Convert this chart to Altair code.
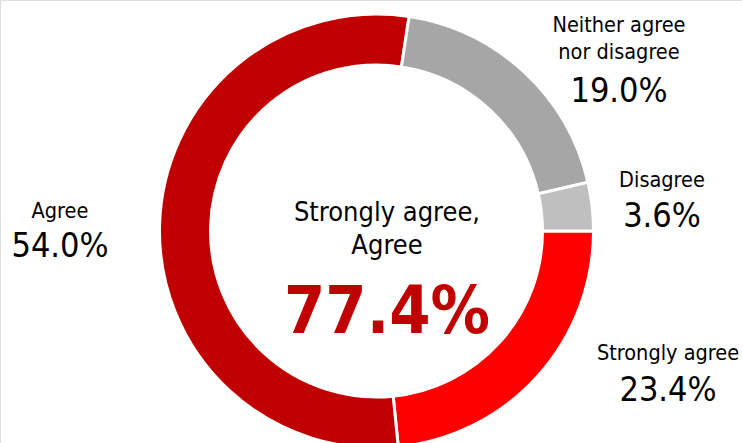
import math
import altair as alt
import pandas as pd

categories = ["Strongly agree", "Agree", "Neither agree nor disagree", "Disagree"]
label_lines = [["Strongly agree"], ["Agree"], ["Neither agree", "nor disagree"], ["Disagree"]]
values = [23.4, 54.0, 19.0, 3.6]
colors = ["#FF0000", "#C00000", "#A6A6A6", "#BFBFBF"]
center_title = ["Strongly agree,", "Agree"]
center_value = 77.4

FONT = "DejaVu Sans Condensed, Roboto, sans-serif"
W, H = 742, 443
CX, CY = 376.5, 231

df = pd.DataFrame({"category": categories, "value": values, "order": list(range(len(values)))})

arc = alt.Chart(df).mark_arc(
    innerRadius=166, outerRadius=217, stroke="white", strokeWidth=3
).encode(
    theta=alt.Theta("value:Q", stack=True,
                    scale=alt.Scale(range=[math.pi / 2, math.pi / 2 + 2 * math.pi])),
    color=alt.Color("category:N", scale=alt.Scale(domain=categories, range=colors), legend=None),
    order=alt.Order("order:Q"),
    x=alt.value(CX),
    y=alt.value(CY),
)

# label anchor positions (x center, baseline of first line, baseline of percentage)
label_pos = {
    "Strongly agree": (668, 360, 401),
    "Agree": (60, 218, 257),
    "Neither agree nor disagree": (619, 32, 102),
    "Disagree": (662, 187, 227),
}

layers = [arc]
for cat, lines, val in zip(categories, label_lines, values):
    x, y1, y2 = label_pos[cat]
    d = pd.DataFrame({"cat": [cat], "value": [val]})
    name = alt.Chart(d).mark_text(
        font=FONT, fontSize=21.5, baseline="alphabetic", align="center",
        lineHeight=27, color="#000000",
    ).encode(text=alt.value(lines), x=alt.value(x), y=alt.value(y1))
    pct = alt.Chart(d).transform_calculate(
        lbl="format(datum.value, '.1f') + '%'"
    ).mark_text(
        font=FONT, fontSize=34, baseline="alphabetic", align="center", color="#000000",
    ).encode(text="lbl:N", x=alt.value(x), y=alt.value(y2))
    layers += [name, pct]

cdf = pd.DataFrame({"v": [center_value]})
ctitle = alt.Chart(cdf).mark_text(
    font=FONT, fontSize=27, baseline="alphabetic", align="center", lineHeight=33, color="#000000",
).encode(text=alt.value(center_title), x=alt.value(387), y=alt.value(221))
cval = alt.Chart(cdf).transform_calculate(
    lbl="format(datum.v, '.1f') + '%'"
).mark_text(
    font=FONT, fontSize=66, fontWeight="bold", baseline="alphabetic", align="center", color="#C00000",
).encode(text="lbl:N", x=alt.value(387), y=alt.value(333))
layers += [ctitle, cval]

chart = alt.layer(*layers).properties(
    width=W, height=H, autosize=alt.AutoSizeParams(type="none"), padding=0,
).configure_view(stroke=None).configure(background="white")

chart.save("out.html", embed_options={"renderer": "svg", "actions": False})
